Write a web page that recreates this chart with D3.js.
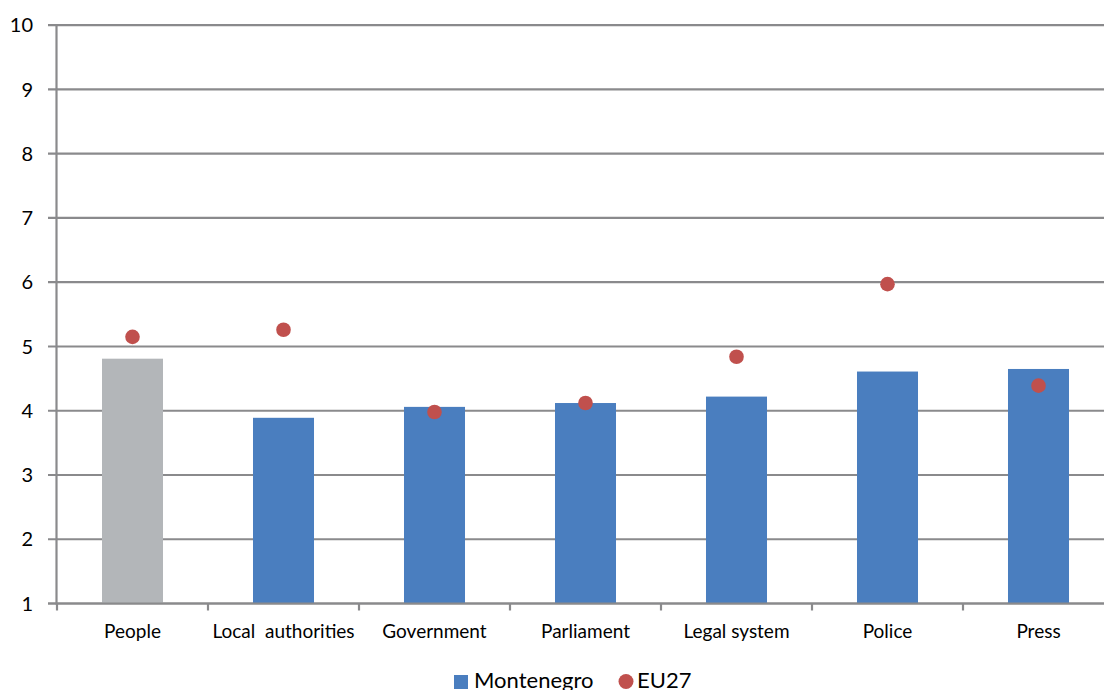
<!DOCTYPE html>
<html><head><meta charset="utf-8">
<script src="https://cdn.jsdelivr.net/npm/d3@7"></script>
<style>body{margin:0;background:#fff;overflow:hidden}svg{display:block}text{font-family:Lato,"Open Sans",sans-serif;fill:#000}</style>
</head><body><svg id="c" width="1104" height="690"></svg>
<script>
const categories = ["People","Local  authorities","Government","Parliament","Legal system","Police","Press"];
const montenegro = [4.81,3.89,4.06,4.12,4.22,4.61,4.65];
const eu27 = [5.15,5.26,3.98,4.12,4.84,5.97,4.39];
const yTicks = [1,2,3,4,5,6,7,8,9,10];
const seriesNames = ["Montenegro","EU27"];

(function(){
const svg = d3.select("#c");
const L = 57, R = 1114, T = 25.2, B = 603.5;
const x = d3.scaleBand().domain(categories).range([L, R]).paddingInner(0.596).paddingOuter(0.298);
const y = d3.scaleLinear().domain([1,10]).range([B, T]);
const gridColor = "#8a8a8c";

svg.append("g").selectAll("line").data(yTicks).join("line")
  .attr("x1", 48).attr("x2", R).attr("y1", d=>y(d)).attr("y2", d=>y(d))
  .attr("stroke", gridColor).attr("stroke-width", 2.2);

svg.append("g").selectAll("text").data(yTicks).join("text")
  .attr("x", 33).attr("y", d=>y(d)).attr("dy","0.36em").attr("text-anchor","end")
  .style("font-size","20px").text(d=>d);

svg.append("g").selectAll("rect").data(montenegro).join("rect")
  .attr("x", (d,i)=>x(categories[i])).attr("width", x.bandwidth())
  .attr("y", d=>y(d)).attr("height", d=>y(1)-y(d))
  .attr("fill", (d,i)=> i===0 ? "#b3b6b9" : "#4a7ebf");

svg.append("line").attr("x1",56.5).attr("x2",56.5).attr("y1",T).attr("y2",B+1)
  .attr("stroke",gridColor).attr("stroke-width",2.2);
svg.append("line").attr("x1",48).attr("x2",R).attr("y1",B).attr("y2",B)
  .attr("stroke",gridColor).attr("stroke-width",2.2);
const bounds = categories.map(c=>x(c)-x.step()*x.paddingInner()/2);
bounds.push(R);
svg.append("g").selectAll("line").data(bounds).join("line")
  .attr("x1", d=>d).attr("x2", d=>d).attr("y1", B).attr("y2", B+7)
  .attr("stroke", gridColor).attr("stroke-width", 2.2);

svg.append("g").selectAll("circle").data(eu27).join("circle")
  .attr("cx", (d,i)=>x(categories[i])+x.bandwidth()/2).attr("cy", d=>y(d)).attr("r", 7.3)
  .attr("fill", "#c0504d");

svg.append("g").selectAll("text").data(categories).join("text")
  .attr("x", c=>x(c)+x.bandwidth()/2).attr("y", 638).attr("text-anchor","middle")
  .style("font-size","19px").style("white-space","pre").text(c=>c);

const lg = svg.append("g");
lg.append("rect").attr("x",454).attr("y",675).attr("width",14).attr("height",14).attr("fill","#4a7ebf");
lg.append("text").attr("x",474).attr("y",688).style("font-size","22px").text(seriesNames[0]);
lg.append("circle").attr("cx",626).attr("cy",681.5).attr("r",7.5).attr("fill","#c0504d");
lg.append("text").attr("x",637).attr("y",688).style("font-size","22px").text(seriesNames[1]);
})();
</script></body></html>
